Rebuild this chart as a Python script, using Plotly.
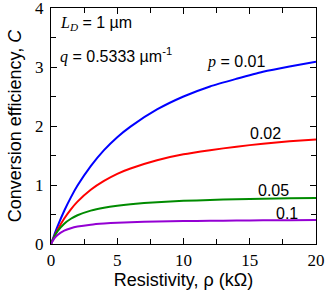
import plotly.graph_objects as go

rho = [0, 0.25, 0.5, 1, 1.5, 2, 3, 4, 5, 6, 8, 10, 12, 14, 16, 18, 20]
c_p001 = [0, 0.157, 0.303, 0.563, 0.79, 0.99, 1.32, 1.59, 1.81, 1.99, 2.28, 2.50, 2.67, 2.80, 2.92, 3.01, 3.09]
c_p002 = [0, 0.128, 0.241, 0.432, 0.588, 0.718, 0.92, 1.07, 1.19, 1.28, 1.42, 1.52, 1.59, 1.65, 1.70, 1.74, 1.77]
c_p005 = [0, 0.124, 0.217, 0.344, 0.428, 0.487, 0.566, 0.616, 0.65, 0.675, 0.709, 0.731, 0.747, 0.758, 0.767, 0.775, 0.78]
c_p01 = [0, 0.094, 0.154, 0.226, 0.268, 0.295, 0.328, 0.347, 0.36, 0.369, 0.381, 0.389, 0.394, 0.398, 0.401, 0.403, 0.405]

series = [
    (c_p001, "#0000ff"),
    (c_p002, "#ff0000"),
    (c_p005, "#008b00"),
    (c_p01, "#9400d3"),
]

SERIF = "Liberation Serif, Times New Roman, serif"
SANS = "Liberation Sans, Arial, sans-serif"

fig = go.Figure()
for vals, col in series:
    fig.add_trace(go.Scatter(x=rho, y=vals, mode="lines",
                             line=dict(color=col, width=2, shape="spline", smoothing=0.6),
                             showlegend=False, hoverinfo="skip"))

axis_common = dict(
    showline=True, linecolor="black", linewidth=1.3, mirror="ticks",
    ticks="inside", ticklen=6, tickwidth=1.2, tickcolor="black",
    showgrid=False, zeroline=False, ticklabeloverflow="allow", automargin=False,
    tickfont=dict(family=SERIF, size=17, color="black"),
    title_font=dict(family=SANS, size=18, color="black"),
)

fig.update_xaxes(range=[0, 20], tickvals=[0, 5, 10, 15, 20],
                 minor=dict(tickvals=[2.5, 7.5, 12.5, 17.5], ticks="inside", ticklen=5, tickcolor="black", tickwidth=1.2),
                 title_text="Resistivity, ρ (kΩ)", title_standoff=2, **axis_common)
fig.update_yaxes(range=[0, 4], tickvals=[0, 1, 2, 3, 4],
                 minor=dict(tickvals=[0.5, 1.5, 2.5, 3.5], ticks="inside", ticklen=5, tickcolor="black", tickwidth=1.2),
                 title_text="Conversion efficiency, <i>C</i>", title_standoff=8, ticklabelstandoff=3, **axis_common)

ann_font = dict(family=SANS, size=16, color="black")
annotations = [
    dict(x=0.028, y=3.73, text="<span style='font-family:Liberation Serif'><i>L</i><sub><i>D</i></sub></span> = 1 µm"),
    dict(x=0.028, y=3.2, text="<span style='font-family:Liberation Serif'><i>q</i></span> = 0.5333 µm<sup>-1</sup>"),
    dict(x=0.58, y=3.08, text="<span style='font-family:Liberation Serif'><i>p</i></span> = 0.01"),
    dict(x=0.745, y=1.88, text="0.02"),
    dict(x=0.772, y=0.91, text="0.05"),
    dict(x=0.84, y=0.52, text="0.1"),
]
for a in annotations:
    fig.add_annotation(x=a["x"], y=a["y"], xref="paper", yref="y", text=a["text"],
                       showarrow=False, xanchor="left", yanchor="middle", font=ann_font)

fig.update_layout(width=327, height=290, margin=dict(l=51, r=11, t=8, b=46),
                  plot_bgcolor="white", paper_bgcolor="white")

fig.write_html("out.html", config={"displayModeBar": False},
               post_script="document.body.style.margin='0';document.body.style.overflow='hidden';")
